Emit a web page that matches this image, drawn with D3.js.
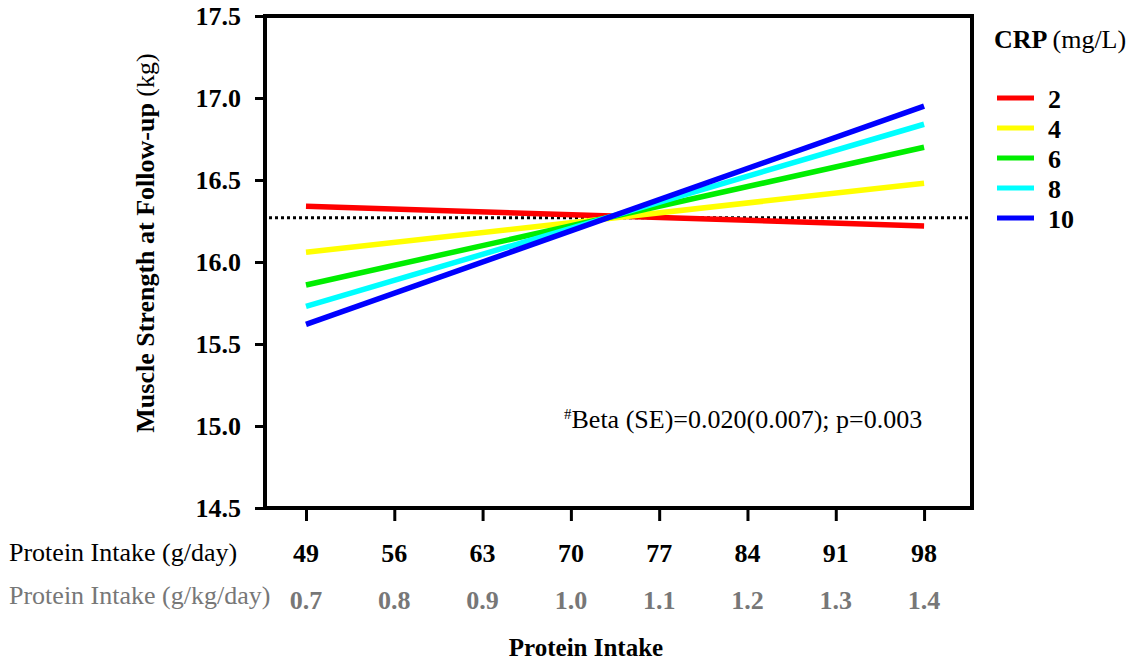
<!DOCTYPE html>
<html>
<head>
<meta charset="utf-8">
<script src="https://cdn.jsdelivr.net/npm/d3@7"></script>
<style>
  body { margin: 0; background: #fff; }
  svg { display: block; }
  svg text { font-family: "Liberation Serif", "DejaVu Serif", serif; }
</style>
</head>
<body>
<div id="chart"></div>
<script>
(function() {
  var proteinG = [49, 56, 63, 70, 77, 84, 91, 98];
  var proteinKg = ["0.7", "0.8", "0.9", "1.0", "1.1", "1.2", "1.3", "1.4"];
  var yTicks = [14.5, 15.0, 15.5, 16.0, 16.5, 17.0, 17.5];
  var crpLevels = ["2", "4", "6", "8", "10"];
  var crpColors = ["#ff0000", "#ffff00", "#00ee00", "#00ffff", "#0000ff"];
  // predicted strength at lowest and highest protein intake, per CRP level
  var strengthAt49 = [16.34, 16.06, 15.86, 15.73, 15.62];
  var strengthAt98 = [16.22, 16.48, 16.70, 16.84, 16.95];
  var meanStrength = 16.27;

  var width = 1133, height = 663;
  var margin = { top: 16, right: 161, bottom: 155, left: 265 };
  var fs = "26px";

  var svg = d3.select("#chart").append("svg")
    .attr("width", width).attr("height", height);

  var x = d3.scaleLinear().domain([45.75, 101.8]).range([margin.left, width - margin.right]);
  var y = d3.scaleLinear().domain([14.5, 17.5]).range([height - margin.bottom, margin.top]);

  var x0 = margin.left, x1 = width - margin.right;
  var yb = height - margin.bottom, yt = margin.top;

  // reference line
  svg.append("line")
    .attr("x1", x0 + 4).attr("x2", x1 - 2)
    .attr("y1", y(meanStrength)).attr("y2", y(meanStrength))
    .style("stroke", "#000").style("stroke-width", 3)
    .style("stroke-dasharray", "3,3");

  var line = d3.line().x(function(d) { return x(d.x); }).y(function(d) { return y(d.y); });

  crpLevels.forEach(function(c, i) {
    var pts = [{ x: proteinG[0], y: strengthAt49[i] }, { x: proteinG[proteinG.length - 1], y: strengthAt98[i] }];
    svg.append("path").attr("d", line(pts))
      .style("fill", "none").style("stroke", crpColors[i]).style("stroke-width", 5.5);
  });

  // frame
  svg.append("rect")
    .attr("x", x0).attr("y", yt).attr("width", x1 - x0).attr("height", yb - yt)
    .style("fill", "none").style("stroke", "#000").style("stroke-width", 4);

  // y axis
  var yAxis = svg.append("g").attr("transform", "translate(" + x0 + ",0)")
    .call(d3.axisLeft(y).tickValues(yTicks).tickFormat(d3.format(".1f")).tickSize(10).tickPadding(14));
  yAxis.select(".domain").remove();
  yAxis.selectAll("line").style("stroke", "#000").style("stroke-width", 3);
  yAxis.selectAll("text").style("font-size", fs).style("font-weight", "bold")
    .style("fill", "#000");

  // x axis ticks only
  var xAxis = svg.append("g").attr("transform", "translate(0," + yb + ")")
    .call(d3.axisBottom(x).tickValues(proteinG).tickSize(13).tickFormat(""));
  xAxis.select(".domain").remove();
  xAxis.selectAll("line").style("stroke", "#000").style("stroke-width", 3);

  // x tick label rows
  svg.selectAll(".xg").data(proteinG).enter().append("text")
    .attr("x", function(d) { return x(d); }).attr("y", 562)
    .attr("text-anchor", "middle").style("font-size", fs).style("font-weight", "bold")
    .text(function(d) { return d; });
  svg.selectAll(".xk").data(proteinKg).enter().append("text")
    .attr("x", function(d, i) { return x(proteinG[i]); }).attr("y", 609)
    .attr("text-anchor", "middle").style("font-size", fs).style("font-weight", "bold")
    .style("fill", "#777").text(function(d) { return d; });

  svg.append("text").attr("x", 9).attr("y", 561).style("font-size", fs)
    .text("Protein Intake (g/day)");
  svg.append("text").attr("x", 9).attr("y", 604).style("font-size", fs).style("fill", "#777")
    .text("Protein Intake (g/kg/day)");
  svg.append("text").attr("x", 586).attr("y", 656).attr("text-anchor", "middle")
    .style("font-size", "25px").style("font-weight", "bold").text("Protein Intake");

  // y title
  svg.append("text")
    .attr("transform", "translate(154,243) rotate(-90)")
    .attr("text-anchor", "middle").style("font-size", fs).style("font-weight", "bold")
    .text("Muscle Strength at Follow-up ")
    .append("tspan").style("font-weight", "normal").text("(kg)");

  // annotation
  var ann = svg.append("text").attr("x", 564).attr("y", 428).style("font-size", fs);
  ann.append("tspan").attr("dy", -9).style("font-size", "15px").text("#");
  ann.append("tspan").attr("dy", 9).text("Beta (SE)=0.020(0.007); p=0.003");

  // legend
  var lg = svg.append("g");
  var lt = lg.append("text").attr("x", 994).attr("y", 48).style("font-size", fs);
  lt.append("tspan").style("font-weight", "bold").text("CRP ");
  lt.append("tspan").text("(mg/L)");
  crpLevels.forEach(function(c, i) {
    var yy = 98 + i * 30;
    lg.append("line").attr("x1", 997).attr("x2", 1034).attr("y1", yy).attr("y2", yy)
      .style("stroke", crpColors[i]).style("stroke-width", 5);
    lg.append("text").attr("x", 1048).attr("y", yy + 10).style("font-size", fs)
      .style("font-weight", "bold").text(c);
  });
})();
</script>
</body>
</html>
